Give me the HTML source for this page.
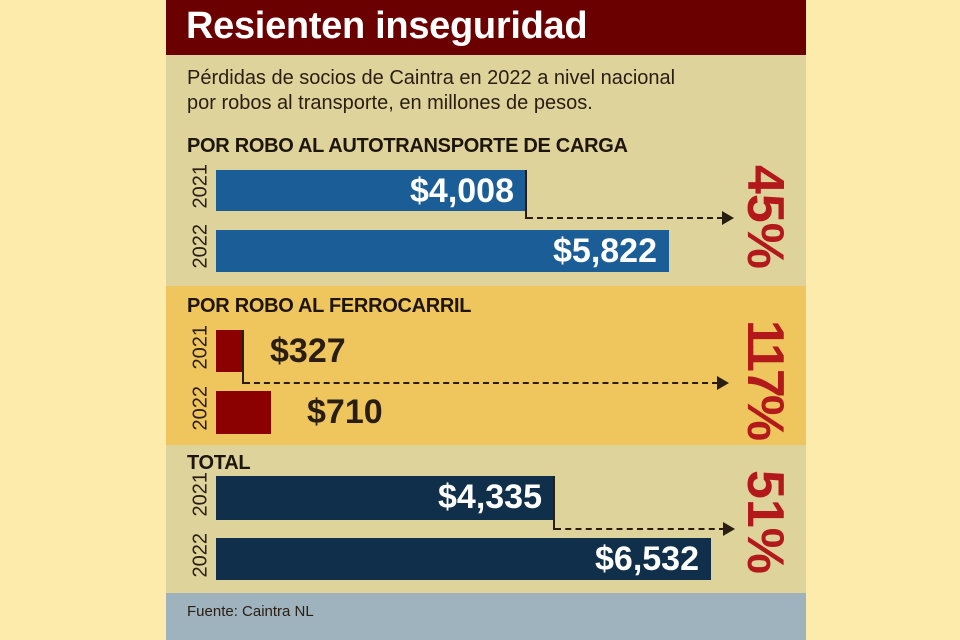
<!DOCTYPE html>
<html><head><meta charset="utf-8"><style>
body{margin:0;width:960px;height:640px;background:#fcebab;position:relative;overflow:hidden;font-family:"Liberation Sans",sans-serif}
.a{position:absolute}
.bar{position:absolute;left:216px;color:#fff;font-weight:bold;font-size:34px;text-align:right;box-sizing:border-box;padding-right:12px;line-height:42px}
.yr{position:absolute;left:183px;width:36px;font-size:20px;color:#2a1d12;transform:rotate(-90deg);text-align:center}
.pct{position:absolute;color:#b3181b;font-weight:bold;font-size:52px;transform:rotate(90deg);transform-origin:center;white-space:nowrap;text-align:center;width:160px;line-height:60px}
.dash{position:absolute;border-top:2px dashed #2a1d12;height:0}
.vl{position:absolute;width:2px;background:#2a1d12}
.arr{position:absolute;width:0;height:0;border-top:7px solid transparent;border-bottom:7px solid transparent;border-left:12px solid #2a1d12}
.h{position:absolute;left:187px;font-size:20px;color:#1e150e;font-weight:bold;letter-spacing:-0.3px}
</style></head><body>
<div class="a" style="left:166px;top:0;width:640px;height:55px;background:#6b0000"></div>
<div class="a" style="left:186px;top:5px;font-size:38px;font-weight:bold;color:#fff;letter-spacing:-0.3px">Resienten inseguridad</div>
<div class="a" style="left:166px;top:55px;width:640px;height:231px;background:#ddd39b"></div>
<div class="a" style="left:166px;top:286px;width:640px;height:159px;background:#efc55e"></div>
<div class="a" style="left:166px;top:445px;width:640px;height:148px;background:#ddd39b"></div>
<div class="a" style="left:166px;top:593px;width:640px;height:47px;background:#9fb3be"></div>
<div class="a" style="left:187px;top:66px;font-size:20px;line-height:25px;color:#2a1d12">Pérdidas de socios de Caintra en 2022 a nivel nacional<br>por robos al transporte, en millones de pesos.</div>
<div class="h" style="top:135px">POR ROBO AL AUTOTRANSPORTE DE CARGA</div>
<div class="h" style="top:295px">POR ROBO AL FERROCARRIL</div>
<div class="h" style="top:452px">TOTAL</div>
<div class="a" style="left:187px;top:603px;font-size:15px;color:#2a1d12">Fuente: Caintra NL</div>

<div class="bar" style="top:170px;width:310px;height:41px;background:#1a5d97">$4,008</div>
<div class="bar" style="top:230px;width:453px;height:42px;background:#1a5d97">$5,822</div>
<div class="vl" style="left:525px;top:170px;height:49px"></div>
<div class="dash" style="left:527px;top:217px;width:196px"></div>
<div class="arr" style="left:722px;top:211px"></div>

<div class="bar" style="top:330px;width:27px;height:42px;background:#8b0000"></div>
<div class="bar" style="top:391px;width:55px;height:43px;background:#8b0000"></div>
<div class="vl" style="left:242px;top:330px;height:54px"></div>
<div class="dash" style="left:244px;top:382px;width:474px"></div>
<div class="arr" style="left:717px;top:376px"></div>
<div class="a" style="left:270px;top:332px;font-size:34px;font-weight:bold;color:#2a1d12">$327</div>
<div class="a" style="left:307px;top:393px;font-size:34px;font-weight:bold;color:#2a1d12">$710</div>

<div class="bar" style="top:476px;width:338px;height:44px;background:#0f2f4a">$4,335</div>
<div class="bar" style="top:538px;width:495px;height:42px;background:#0f2f4a">$6,532</div>
<div class="vl" style="left:553px;top:476px;height:54px"></div>
<div class="dash" style="left:555px;top:528px;width:170px"></div>
<div class="arr" style="left:723px;top:522px"></div>

<div class="yr" style="top:179px">2021</div>
<div class="yr" style="top:239px">2022</div>
<div class="yr" style="top:340px">2021</div>
<div class="yr" style="top:401px">2022</div>
<div class="yr" style="top:487px">2021</div>
<div class="yr" style="top:548px">2022</div>

<div class="pct" style="left:685px;top:187px">45%</div>
<div class="pct" style="left:685px;top:349px;letter-spacing:-3px">117%</div>
<div class="pct" style="left:685px;top:492px">51%</div>
</body></html>
